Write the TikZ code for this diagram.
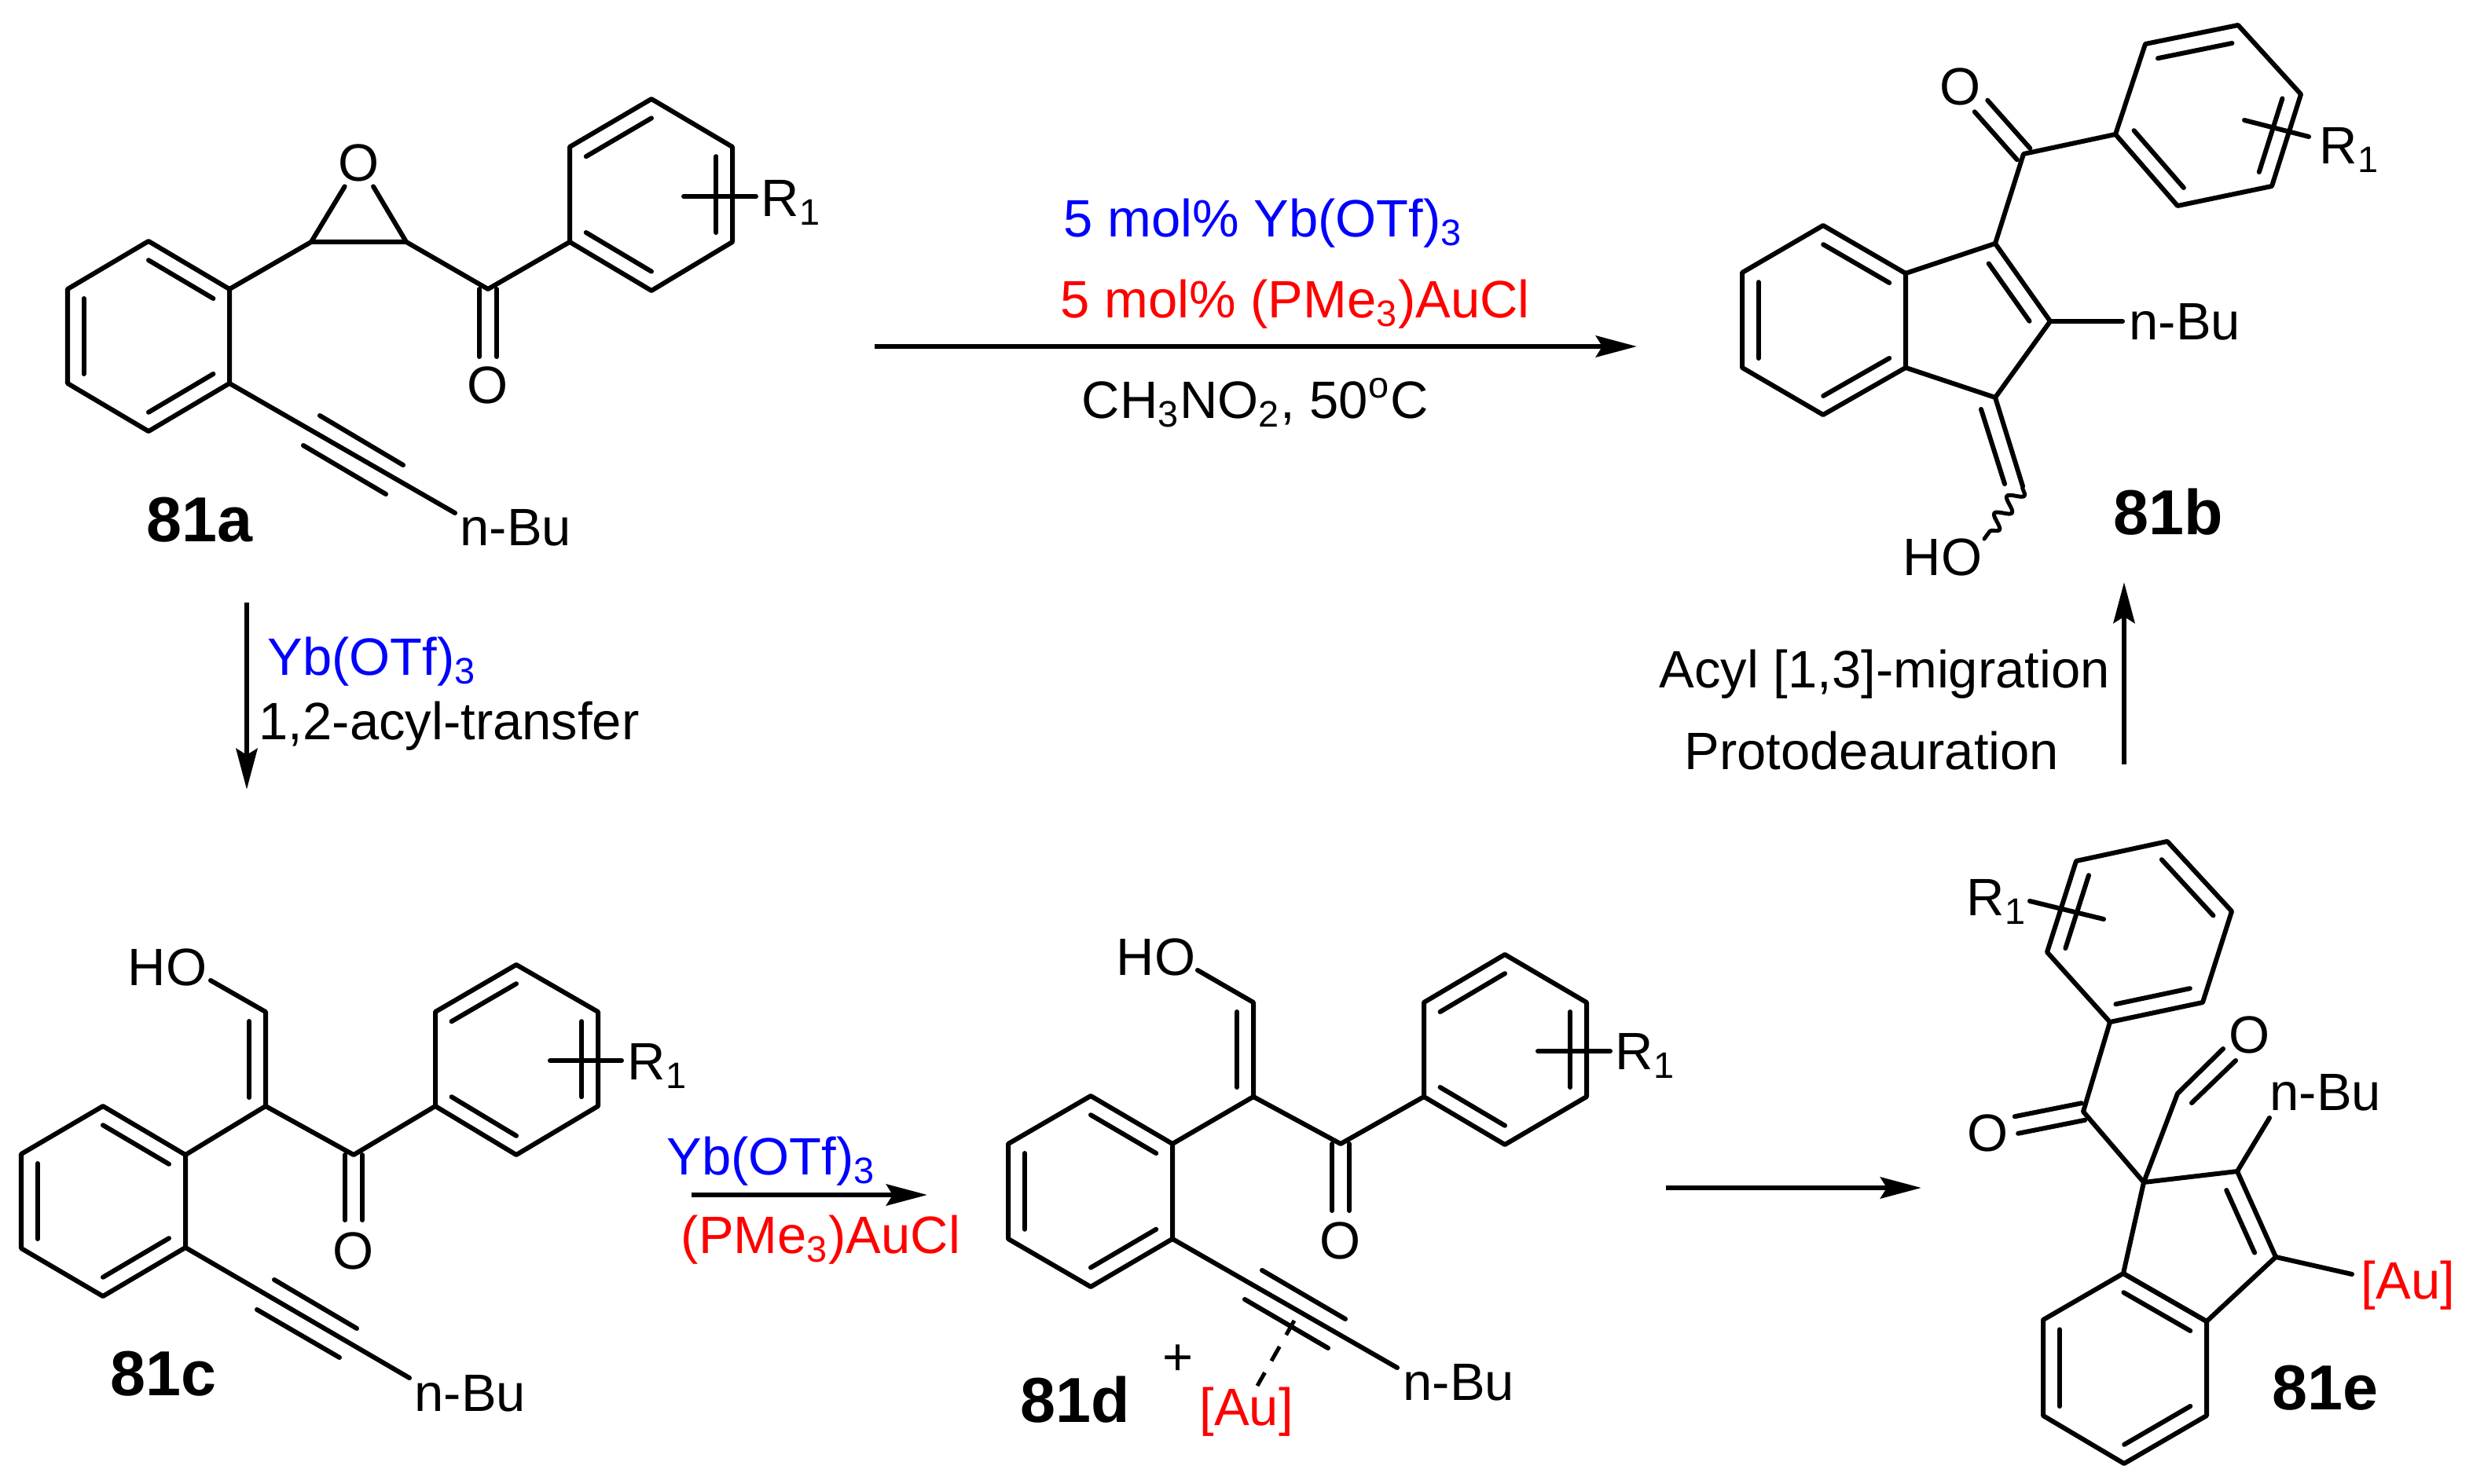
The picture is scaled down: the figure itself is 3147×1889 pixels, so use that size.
\documentclass[tikz,border=0pt]{standalone}
\usepackage{fontspec}
\setmainfont{Liberation Sans}
\usepackage{tikz}
\usetikzlibrary{positioning,calc,arrows.meta,decorations.pathmorphing}

\tikzset{
    bond/.style={line width=.06cm, line cap=round, line join=round},
    rxn/.style={line width=.065cm, -{Stealth[length=.52cm,width=.27cm,inset=.08cm]}},
    txt/.style={anchor=base west, inner sep=0pt, xshift=-.04cm, font=\fontsize{19.04}{20}\selectfont},
    atom/.style={inner sep=.06cm, font=\fontsize{19.04}{20}\selectfont},
    cpd/.style={anchor=base west, inner sep=0pt, font=\fontsize{23}{25}\selectfont\bfseries}
}
\newcommand{\ringdbl}[4][.2]{\draw[bond] ($(#2)!#1!(#4)$) -- ($(#3)!#1!(#4)$);}
\newcommand{\dblbond}[2]{
    \draw[bond] ($(#1)!.11cm!90:(#2)$) -- ($(#2)!.11cm!-90:(#1)$);
    \draw[bond] ($(#1)!.11cm!-90:(#2)$) -- ($(#2)!.11cm!90:(#1)$);
}

\begin{document}
\begin{tikzpicture}[x=.01cm, y=-.01cm]
    \useasboundingbox (0, 0) rectangle (3147, 1889);

    % 81a
    \coordinate (a0) at (189, 428);
    \coordinate (a1) at (189, 307);
    \coordinate (a2) at (292, 368);
    \coordinate (a3) at (292, 488);
    \coordinate (a4) at (189, 549);
    \coordinate (a5) at (86, 488);
    \coordinate (a6) at (86, 368);
    \coordinate (a7) at (396, 308);
    \coordinate (a8) at (517, 308);
    \coordinate (a9) at (621, 368);
    \coordinate (a9o) at (621, 454);
    \coordinate (a10) at (725, 308);
    \coordinate (a11) at (725, 187);
    \coordinate (a12) at (829, 126);
    \coordinate (a13) at (932, 187);
    \coordinate (a14) at (932, 308);
    \coordinate (a15) at (829, 370);
    \coordinate (a00) at (829, 248);
    \coordinate (a16) at (870, 250);
    \coordinate (a17) at (962, 250);
    \coordinate (a18) at (579, 653);
    \coordinate (a19) at (407, 529);
    \coordinate (a20) at (513, 592);
    \coordinate (a21) at (386, 567);
    \coordinate (a22) at (491, 629);
    \node[atom] (aO1) at (457, 207) {O};
    \node[atom] (aO2) at (621, 490) {O};
    \node[txt] (aR) at (972, 276) {R\textsubscript{1}};
    \node[txt] (aBu) at (589, 695) {n-Bu};
    \node[cpd] (aName) at (186, 690) {81a};
    \draw[bond] (a1) -- (a2) -- (a3) -- (a4) -- (a5) -- (a6) -- cycle;
    \ringdbl{a1}{a2}{a0}
    \ringdbl{a3}{a4}{a0}
    \ringdbl{a5}{a6}{a0}
    \draw[bond] (a2) -- (a7) -- (a8) -- (a9) -- (a10);
    \draw[bond] (a7) -- (aO1);
    \draw[bond] (a8) -- (aO1);
    \dblbond{a9}{a9o}
    \draw[bond] (a10) -- (a11) -- (a12) -- (a13) -- (a14) -- (a15) -- cycle;
    \ringdbl{a11}{a12}{a00}
    \ringdbl{a13}{a14}{a00}
    \ringdbl{a10}{a15}{a00}
    \draw[bond] (a16) -- (a17);
    \draw[bond] (a3) -- (a18);
    \draw[bond] (a19) -- (a20);
    \draw[bond] (a21) -- (a22);

    % 81b
    \coordinate (b0) at (2321, 408);
    \coordinate (b1) at (2320, 287);
    \coordinate (b2) at (2425, 348);
    \coordinate (b3) at (2425, 468);
    \coordinate (b4) at (2320, 528);
    \coordinate (b5) at (2217, 468);
    \coordinate (b6) at (2217, 347);
    \coordinate (b7) at (2539, 310);
    \coordinate (b8) at (2609, 409);
    \coordinate (b9) at (2539, 506);
    \coordinate (b10) at (2507, 408);
    \coordinate (b11) at (2575, 196);
    \coordinate (b11o) at (2521, 135);
    \coordinate (b12) at (2692, 171);
    \coordinate (b13) at (2730, 56);
    \coordinate (b14) at (2848, 32);
    \coordinate (b15) at (2928, 120);
    \coordinate (b16) at (2891, 237);
    \coordinate (b17) at (2771, 262);
    \coordinate (b00) at (2810, 147);
    \coordinate (b18) at (2856, 153);
    \coordinate (b19) at (2938, 174);
    \coordinate (b20) at (2701, 409);
    \coordinate (b21) at (2574, 619);
    \coordinate (b22) at (2521, 521);
    \coordinate (b23) at (2551, 616);
    \coordinate (b24) at (2525, 686);
    \node[atom] (bO) at (2495, 110) {O};
    \node[txt] (bR) at (2955, 209) {R\textsubscript{1}};
    \node[txt] (bBu) at (2713, 433) {n-Bu};
    \node[txt] (bHO) at (2425, 733) {HO};
    \node[cpd] (bName) at (2689, 681) {81b};
    \draw[bond] (b1) -- (b2) -- (b3) -- (b4) -- (b5) -- (b6) -- cycle;
    \ringdbl{b1}{b2}{b0}
    \ringdbl{b3}{b4}{b0}
    \ringdbl{b5}{b6}{b0}
    \draw[bond] (b2) -- (b7) -- (b8) -- (b9) -- (b3);
    \ringdbl[.26]{b7}{b8}{b10}
    \draw[bond] (b7) -- (b11) -- (b12);
    \dblbond{b11}{b11o}
    \draw[bond] (b12) -- (b13) -- (b14) -- (b15) -- (b16) -- (b17) -- cycle;
    \ringdbl{b13}{b14}{b00}
    \ringdbl{b15}{b16}{b00}
    \ringdbl{b12}{b17}{b00}
    \draw[bond] (b18) -- (b19);
    \draw[bond] (b8) -- (b20);
    \draw[bond] (b9) -- (b21);
    \draw[bond] (b22) -- (b23);
    \draw[bond, line width=.05cm, decorate, decoration={snake, segment length=.27cm, amplitude=.09cm}] (b21) -- (b24);

    % 81c
    \coordinate (c0) at (131, 1529);
    \coordinate (c1) at (131, 1408);
    \coordinate (c2) at (236, 1470);
    \coordinate (c3) at (236, 1588);
    \coordinate (c4) at (131, 1650);
    \coordinate (c5) at (27, 1589);
    \coordinate (c6) at (27, 1469);
    \coordinate (c7) at (338, 1408);
    \coordinate (c8) at (338, 1288);
    \coordinate (c8h) at (268, 1248);
    \coordinate (c9) at (317, 1300);
    \coordinate (c10) at (317, 1397);
    \coordinate (c11) at (450, 1470);
    \coordinate (c11o) at (450, 1553);
    \coordinate (c12) at (554, 1408);
    \coordinate (c13) at (554, 1288);
    \coordinate (c14) at (657, 1228);
    \coordinate (c15) at (761, 1288);
    \coordinate (c16) at (761, 1408);
    \coordinate (c17) at (657, 1470);
    \coordinate (c00) at (657, 1349);
    \coordinate (c18) at (700, 1350);
    \coordinate (c19) at (791, 1350);
    \coordinate (c20) at (521, 1754);
    \coordinate (c21) at (349, 1629);
    \coordinate (c22) at (454, 1691);
    \coordinate (c23) at (327, 1667);
    \coordinate (c24) at (432, 1728);
    \node[atom] (cO) at (450, 1592) {O};
    \node[txt] (cHO) at (166, 1255) {HO};
    \node[txt] (cR) at (802, 1375) {R\textsubscript{1}};
    \node[txt] (cBu) at (531, 1796) {n-Bu};
    \node[cpd] (cName) at (140, 1776) {81c};
    \draw[bond] (c1) -- (c2) -- (c3) -- (c4) -- (c5) -- (c6) -- cycle;
    \ringdbl{c1}{c2}{c0}
    \ringdbl{c3}{c4}{c0}
    \ringdbl{c5}{c6}{c0}
    \draw[bond] (c2) -- (c7) -- (c8) -- (c8h);
    \draw[bond] (c9) -- (c10);
    \draw[bond] (c7) -- (c11) -- (c12);
    \dblbond{c11}{c11o}
    \draw[bond] (c12) -- (c13) -- (c14) -- (c15) -- (c16) -- (c17) -- cycle;
    \ringdbl{c13}{c14}{c00}
    \ringdbl{c15}{c16}{c00}
    \ringdbl{c12}{c17}{c00}
    \draw[bond] (c18) -- (c19);
    \draw[bond] (c3) -- (c20);
    \draw[bond] (c21) -- (c22);
    \draw[bond] (c23) -- (c24);

    % 81d
    \coordinate (d0) at (1388, 1516);
    \coordinate (d1) at (1388, 1395);
    \coordinate (d2) at (1492, 1456);
    \coordinate (d3) at (1492, 1577);
    \coordinate (d4) at (1388, 1638);
    \coordinate (d5) at (1283, 1577);
    \coordinate (d6) at (1283, 1456);
    \coordinate (d7) at (1595, 1396);
    \coordinate (d8) at (1595, 1276);
    \coordinate (d8h) at (1524, 1235);
    \coordinate (d9) at (1574, 1288);
    \coordinate (d10) at (1574, 1384);
    \coordinate (d11) at (1706, 1456);
    \coordinate (d11o) at (1706, 1541);
    \coordinate (d12) at (1812, 1396);
    \coordinate (d13) at (1812, 1276);
    \coordinate (d14) at (1915, 1215);
    \coordinate (d15) at (2019, 1276);
    \coordinate (d16) at (2019, 1396);
    \coordinate (d17) at (1915, 1457);
    \coordinate (d00) at (1915, 1336);
    \coordinate (d18) at (1957, 1338);
    \coordinate (d19) at (2049, 1338);
    \coordinate (d20) at (1778, 1741);
    \coordinate (d21) at (1606, 1617);
    \coordinate (d22) at (1712, 1679);
    \coordinate (d23) at (1584, 1654);
    \coordinate (d24) at (1690, 1716);
    \coordinate (d25) at (1647, 1681);
    \coordinate (d26) at (1600, 1764);
    \node[atom] (dO) at (1706, 1579) {O};
    \node[txt] (dHO) at (1424, 1242) {HO};
    \node[txt] (dR) at (2059, 1362) {R\textsubscript{1}};
    \node[txt] (dBu) at (1789, 1782) {n-Bu};
    \node[txt, text=red] (dAu) at (1530, 1814) {[Au]};
    \node[atom, inner sep=0pt] (dPlus) at (1499, 1731) {+};
    \node[cpd] (dName) at (1298, 1810) {81d};
    \draw[bond] (d1) -- (d2) -- (d3) -- (d4) -- (d5) -- (d6) -- cycle;
    \ringdbl{d1}{d2}{d0}
    \ringdbl{d3}{d4}{d0}
    \ringdbl{d5}{d6}{d0}
    \draw[bond] (d2) -- (d7) -- (d8) -- (d8h);
    \draw[bond] (d9) -- (d10);
    \draw[bond] (d7) -- (d11) -- (d12);
    \dblbond{d11}{d11o}
    \draw[bond] (d12) -- (d13) -- (d14) -- (d15) -- (d16) -- (d17) -- cycle;
    \ringdbl{d13}{d14}{d00}
    \ringdbl{d15}{d16}{d00}
    \ringdbl{d12}{d17}{d00}
    \draw[bond] (d18) -- (d19);
    \draw[bond] (d3) -- (d20);
    \draw[bond] (d21) -- (d22);
    \draw[bond] (d23) -- (d24);
    \draw[bond, line width=.05cm, line cap=butt, dash pattern=on .21cm off .17cm] (d25) -- (d26);

    % 81e
    \coordinate (e1) at (2642, 1096);
    \coordinate (e2) at (2758, 1071);
    \coordinate (e3) at (2840, 1160);
    \coordinate (e4) at (2803, 1276);
    \coordinate (e5) at (2685, 1301);
    \coordinate (e6) at (2605, 1212);
    \coordinate (e00) at (2722, 1187);
    \coordinate (e7) at (2583, 1147);
    \coordinate (e8) at (2677, 1170);
    \coordinate (e9) at (2651, 1415);
    \coordinate (e9o) at (2566, 1432);
    \coordinate (e10) at (2728, 1505);
    \coordinate (e11) at (2771, 1392);
    \coordinate (e12) at (2829, 1335);
    \coordinate (e13) at (2789, 1404);
    \coordinate (e14) at (2845, 1350);
    \coordinate (e15) at (2847, 1491);
    \coordinate (e16) at (2896, 1600);
    \coordinate (e17) at (2808, 1682);
    \coordinate (e18) at (2702, 1621);
    \coordinate (e10c) at (2796, 1580);
    \coordinate (e19) at (2888, 1423);
    \coordinate (e20) at (2993, 1622);
    \coordinate (e21) at (2808, 1802);
    \coordinate (e22) at (2703, 1863);
    \coordinate (e23) at (2600, 1802);
    \coordinate (e24) at (2600, 1680);
    \coordinate (e0) at (2704, 1742);
    \node[atom] (eO1) at (2530, 1442) {O};
    \node[atom] (eO2) at (2863, 1317) {O};
    \node[txt] (eR) at (2506, 1166) {R\textsubscript{1}};
    \node[txt] (eBu) at (2892, 1414) {n-Bu};
    \node[txt, text=red] (eAu) at (3008, 1653) {[Au]};
    \node[cpd] (eName) at (2891, 1794) {81e};
    \draw[bond] (e1) -- (e2) -- (e3) -- (e4) -- (e5) -- (e6) -- cycle;
    \ringdbl{e2}{e3}{e00}
    \ringdbl{e4}{e5}{e00}
    \ringdbl{e1}{e6}{e00}
    \draw[bond] (e7) -- (e8);
    \draw[bond] (e5) -- (e9) -- (e10) -- (e11) -- (e12);
    \dblbond{e9}{e9o}
    \draw[bond] (e13) -- (e14);
    \draw[bond] (e10) -- (e15) -- (e16) -- (e17) -- (e18) -- cycle;
    \ringdbl[.27]{e15}{e16}{e10c}
    \draw[bond] (e15) -- (e19);
    \draw[bond] (e16) -- (e20);
    \draw[bond] (e18) -- (e17) -- (e21) -- (e22) -- (e23) -- (e24) -- cycle;
    \ringdbl{e18}{e17}{e0}
    \ringdbl{e21}{e22}{e0}
    \ringdbl{e23}{e24}{e0}

    % arrows
    \coordinate (r1s) at (1113, 441);
    \coordinate (r1e) at (2083, 441);
    \coordinate (r2s) at (314, 767);
    \coordinate (r2e) at (314, 1005);
    \coordinate (r3s) at (880, 1521);
    \coordinate (r3e) at (1180, 1521);
    \coordinate (r4s) at (2120, 1512);
    \coordinate (r4e) at (2445, 1512);
    \coordinate (r5s) at (2703, 973);
    \coordinate (r5e) at (2703, 741);
    \draw[rxn] (r1s) -- (r1e);
    \draw[rxn] (r2s) -- (r2e);
    \draw[rxn] (r3s) -- (r3e);
    \draw[rxn] (r4s) -- (r4e);
    \draw[rxn] (r5s) -- (r5e);
    \node[txt, text=blue] (t1) at (1357, 302) {5 mol\% Yb(OTf)\textsubscript{3}};
    \node[txt, text=red] (t2) at (1353, 405) {5 mol\% (PMe\textsubscript{3})AuCl};
    \node[txt] (t3) at (1380, 533) {CH\textsubscript{3}NO\textsubscript{2}, 50\textsuperscript{o}C};
    \node[txt, text=blue] (t4) at (344, 860) {Yb(OTf)\textsubscript{3}};
    \node[txt] (t5) at (333, 942) {1,2-acyl-transfer};
    \node[txt, text=blue] (t6) at (852, 1496) {Yb(OTf)\textsubscript{3}};
    \node[txt, text=red] (t7) at (870, 1596) {(PMe\textsubscript{3})AuCl};
    \node[txt] (t8) at (2115, 876) {Acyl [1,3]-migration};
    \node[txt] (t9) at (2147, 980) {Protodeauration};
\end{tikzpicture}
\end{document}
